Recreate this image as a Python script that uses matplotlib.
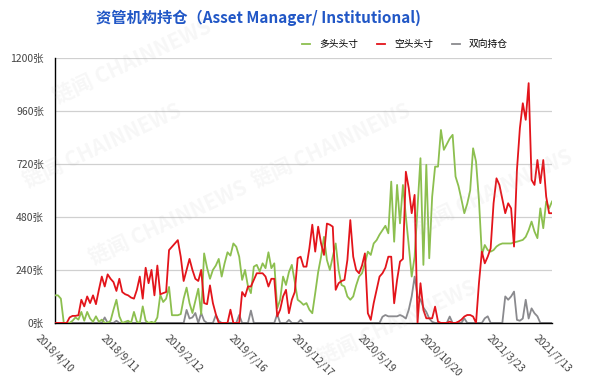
import matplotlib
matplotlib.use('Agg')
import matplotlib.pyplot as plt
import numpy as np

plt.rcParams['font.family'] = ['Noto Sans CJK SC', 'DejaVu Sans']
plt.rcParams['axes.unicode_minus'] = False

# 周度数据 (2018/4/10 - 2021/7/13)
long_pos = [125, 125, 110, 0, 0, 0, 10, 25, 15, 50,
            10, 50, 20, 5, 30, 5, 15, 0, 0, 10,
            60, 105, 30, 0, 5, 10, 0, 50, 5, 0,
            75, 10, 0, 5, 0, 25, 127, 95, 110, 163,
            35, 35, 35, 40, 110, 160, 90, 45, 100, 155,
            40, 315, 250, 200, 240, 260, 290, 210, 270, 320,
            305, 360, 345, 300, 195, 240, 165, 135, 255, 263,
            233, 270, 248, 320, 248, 270, 66, 105, 210, 172,
            230, 263, 187, 105, 95, 82, 90, 60, 44, 135,
            230, 300, 390, 285, 240, 300, 360, 240, 172, 165,
            120, 105, 120, 170, 210, 225, 270, 323, 308, 360,
            375, 400, 420, 440, 406, 640, 368, 625, 451, 625,
            482, 350, 210, 300, 520, 746, 263, 716, 293, 572,
            708, 708, 874, 784, 810, 835, 852, 663, 620, 560,
            497, 540, 600, 791, 731, 557, 308, 353, 330, 323,
            330, 346, 355, 360, 360, 360, 360, 365, 368, 372,
            376, 390, 420, 459, 414, 384, 519, 429, 550, 519,
            550]

short_pos = [0, 0, 0, 0, 0, 25, 32, 32, 35, 105,
             75, 120, 90, 125, 85, 150, 210, 165, 220, 200,
             185, 145, 200, 140, 130, 125, 115, 110, 150, 210,
             110, 250, 180, 240, 125, 260, 130, 135, 140, 330,
             345, 360, 375, 300, 190, 240, 290, 240, 200, 190,
             240, 90, 85, 170, 90, 40, 0, 0, 0, 0,
             60, 0, 0, 0, 140, 120, 165, 165, 195, 225,
             225, 225, 210, 165, 200, 200, 30, 60, 120, 150,
             44, 105, 140, 293, 300, 255, 255, 338, 445, 323,
             436, 360, 308, 450, 445, 436, 150, 180, 190, 195,
             285, 466, 300, 240, 225, 260, 315, 44, 14, 90,
             150, 210, 225, 250, 300, 300, 89, 195, 278, 290,
             685, 610, 497, 580, 0, 180, 59, 21, 21, 21,
             74, 6, 0, 0, 0, 6, 0, 0, 6, 15,
             29, 36, 36, 29, 0, 180, 323, 270, 300, 338,
             542, 655, 625, 560, 497, 542, 519, 346, 693, 882,
             995, 920, 1086, 648, 625, 738, 633, 738, 572, 497,
             497]

spread_pos = [0, 0, 0, 0, 0, 0, 0, 0, 0, 0,
              0, 0, 0, 0, 0, 0, 0, 25, 0, 0,
              0, 10, 0, 0, 0, 0, 0, 0, 0, 0,
              0, 0, 0, 0, 0, 0, 0, 0, 0, 0,
              0, 0, 0, 0, 0, 59, 20, 25, 45, 0,
              45, 10, 0, 0, 0, 35, 10, 0, 0, 0,
              0, 0, 0, 36, 0, 0, 0, 56, 0, 0,
              0, 0, 0, 0, 0, 0, 40, 0, 0, 0,
              14, 0, 0, 0, 14, 0, 0, 0, 0, 0,
              0, 0, 0, 0, 0, 0, 0, 0, 0, 0,
              0, 0, 0, 0, 0, 0, 0, 0, 0, 0,
              0, 0, 28, 36, 30, 30, 30, 30, 36, 30,
              20, 60, 120, 210, 120, 105, 70, 50, 20, 5,
              0, 0, 0, 0, 0, 29, 0, 0, 0, 0,
              21, 0, 0, 0, 0, 0, 0, 21, 30, 0,
              0, 0, 0, 0, 120, 105, 120, 142, 14, 10,
              20, 105, 20, 66, 44, 30, 0, 0, 0, 0,
              0]

tick_pos = [0, 22, 44, 66, 88, 110, 132, 154, 170]
tick_labels = ['2018/4/10', '2018/9/11', '2019/2/12', '2019/7/16', '2019/12/17',
               '2020/5/19', '2020/10/20', '2021/3/23', '2021/7/13']
series_names = ['多头头寸', '空头头寸', '双向持仓']

fig = plt.figure(figsize=(6.02, 3.84), dpi=100)
ax = fig.add_axes([0.0914, 0.159, 0.8256, 0.690])

x = np.arange(len(long_pos))
l1, = ax.plot(x, long_pos, color='#8cbf4f', lw=1.3, zorder=3)
l2, = ax.plot(x, short_pos, color='#e3141b', lw=1.3, zorder=4)
l3, = ax.plot(x, spread_pos, color='#8a8a8e', lw=1.3, zorder=2)

ax.set_xlim(0, 170)
ax.set_ylim(0, 1200)
yt = [0, 240, 480, 720, 960, 1200]
ax.set_yticks(yt)
ax.set_yticklabels([f'{v}张' for v in yt], fontsize=7.5, color='#444444')
ax.set_xticks(tick_pos)
ax.set_xticklabels(tick_labels, rotation=-45, ha='center', va='top',
                   fontsize=7.5, color='#444444')
ax.tick_params(axis='y', length=0, pad=8)
ax.tick_params(axis='x', length=0, pad=7)
ax.grid(axis='y', color='#d0d0d0', lw=0.9)
ax.set_axisbelow(True)
for s in ['top', 'right']:
    ax.spines[s].set_visible(False)
ax.spines['left'].set_color('black')
ax.spines['bottom'].set_color('black')
ax.spines['left'].set_linewidth(1.0)
ax.spines['bottom'].set_linewidth(1.0)

fig.text(0.43, 0.955, '资管机构持仓（Asset Manager/ Institutional)', ha='center', va='center',
         fontsize=11, fontweight='bold', color='#2157c6')

fig.legend([l1, l2, l3], series_names, loc='center', bbox_to_anchor=(0.673, 0.885),
           ncol=3, frameon=False, fontsize=7, handlelength=0.8, columnspacing=2.0,
           handletextpad=0.9)

# 水印
for (wx, wy) in [(0.22, 0.84), (0.55, 0.62), (0.28, 0.42), (0.82, 0.5), (0.66, 0.16), (0.17, 0.62)]:
    fig.text(wx, wy, '链闻 CHAINNEWS', rotation=25, fontsize=15, fontweight='bold',
             color='#b0b0b0', alpha=0.1, ha='center', va='center', zorder=0)

fig.savefig('out.png', dpi=100)
